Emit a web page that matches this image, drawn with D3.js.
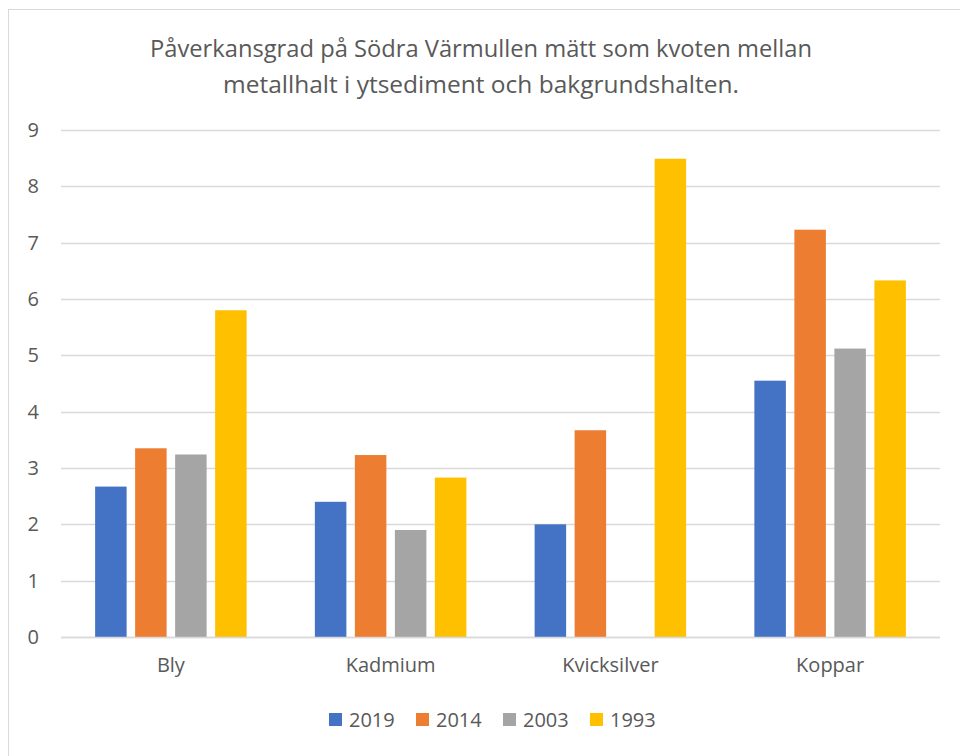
<!DOCTYPE html>
<html lang="sv">
<head>
<meta charset="utf-8">
<title>Påverkansgrad på Södra Värmullen</title>
<script src="https://d3js.org/d3.v7.min.js"></script>
<style>
  body { margin: 0; background: #fff; }
  text { font-family: "Open Sans", "Noto Sans", sans-serif; fill: #595959; }
</style>
</head>
<body>
<script>
// data
const categories = ["Bly", "Kadmium", "Kvicksilver", "Koppar"];
const series = ["2019", "2014", "2003", "1993"];
const v2019 = [2.67, 2.40, 2.00, 4.55];
const v2014 = [3.35, 3.23, 3.67, 7.23];
const v2003 = [3.24, 1.90, null, 5.12];
const v1993 = [5.80, 2.83, 8.49, 6.33];
const yTicks = [0, 1, 2, 3, 4, 5, 6, 7, 8, 9];
const titleLines = ["Påverkansgrad på Södra Värmullen mätt som kvoten mellan",
                    "metallhalt i ytsediment och bakgrundshalten."];

const values = { "2019": v2019, "2014": v2014, "2003": v2003, "1993": v1993 };
const colors = { "2019": "#4472C4", "2014": "#ED7D31", "2003": "#A5A5A5", "1993": "#FFC000" };

// canvas
const W = 960, H = 756;
const plot = { left: 61, right: 940, top: 130, bottom: 637 };

const svg = d3.select("body").append("svg")
    .attr("width", W)
    .attr("height", H);

svg.append("rect")
    .attr("width", W).attr("height", H)
    .attr("fill", "#fff");

// chart border (right / bottom fall outside the picture)
svg.append("rect")
    .attr("x", 8.5).attr("y", 9.5)
    .attr("width", 960).attr("height", 760)
    .attr("fill", "none")
    .attr("stroke", "#d9d9d9")
    .attr("stroke-width", 1);

// title - Calibri is narrow, so squeeze to the reference widths
const title = svg.append("g");
const titleWidths = [662, 516];
titleLines.forEach(function(t, i) {
  title.append("text")
      .attr("x", 481)
      .attr("y", 57 + i * 36)
      .attr("text-anchor", "middle")
      .style("font-size", "24px")
      .attr("textLength", titleWidths[i])
      .attr("lengthAdjust", "spacingAndGlyphs")
      .text(t);
});

// scales
const x0 = d3.scaleBand()
    .domain(categories)
    .range([plot.left, plot.right]);

const x1 = d3.scaleBand()
    .domain(series)
    .range([0, x0.bandwidth()])
    .paddingInner(0.2125)
    .paddingOuter(0.853);

const y = d3.scaleLinear()
    .domain([0, 9])
    .range([plot.bottom, plot.top]);

// gridlines
svg.append("g")
  .selectAll("line")
  .data(yTicks)
  .join("line")
    .attr("x1", plot.left).attr("x2", plot.right)
    .attr("y1", d => Math.round(y(d)) + 0.5)
    .attr("y2", d => Math.round(y(d)) + 0.5)
    .attr("stroke", "#d9d9d9")
    .attr("stroke-width", 1.3);

// y axis labels
const yAxis = svg.append("g")
    .attr("transform", "translate(" + (plot.left - 22) + ",0)")
    .call(d3.axisLeft(y).tickValues(yTicks).tickSize(0).tickPadding(0));
yAxis.select(".domain").remove();
yAxis.selectAll("text")
    .style("font-size", "20px")
    .attr("fill", "#595959");

// bars
const bars = [];
categories.forEach(function(c, i) {
  series.forEach(function(s) {
    if (values[s][i] != null) bars.push({ cat: c, ser: s, val: values[s][i] });
  });
});

svg.append("g")
  .selectAll("rect")
  .data(bars)
  .join("rect")
    .attr("x", d => x0(d.cat) + x1(d.ser))
    .attr("y", d => y(d.val))
    .attr("width", x1.bandwidth())
    .attr("height", d => y(0) - y(d.val))
    .attr("fill", d => colors[d.ser]);

// x axis line
svg.append("line")
    .attr("x1", plot.left).attr("x2", plot.right)
    .attr("y1", plot.bottom + 0.5).attr("y2", plot.bottom + 0.5)
    .attr("stroke", "#d9d9d9")
    .attr("stroke-width", 1.3);

// x axis labels
const xAxis = svg.append("g")
    .attr("transform", "translate(0," + plot.bottom + ")")
    .call(d3.axisBottom(x0).tickSize(0).tickPadding(21));
xAxis.select(".domain").remove();
xAxis.selectAll("text")
    .style("font-size", "20px")
    .attr("fill", "#595959");

// legend
const legendStart = 329, legendStep = 87;
const legend = svg.append("g");
series.forEach(function(s, i) {
  const g = legend.append("g")
      .attr("transform", "translate(" + (legendStart + i * legendStep) + ",713)");
  g.append("rect")
      .attr("width", 13).attr("height", 13)
      .attr("fill", colors[s]);
  g.append("text")
      .attr("x", 20)
      .attr("y", 14)
      .style("font-size", "20px")
      .text(s);
});
</script>
</body>
</html>
